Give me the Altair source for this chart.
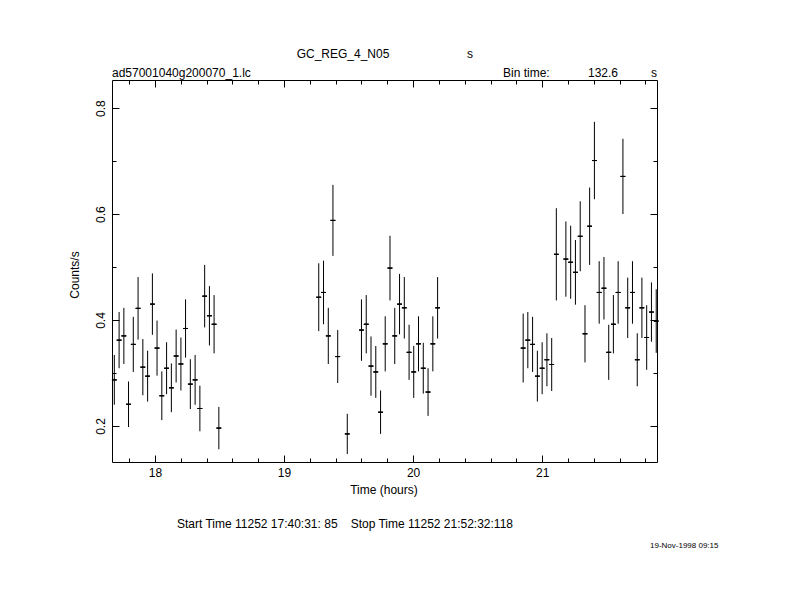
import altair as alt
import pandas as pd

# ---- data (time in hours, rate in counts/s) ----
t_g1 = [17.685, 17.722, 17.759, 17.795, 17.832, 17.869, 17.906, 17.943, 17.980, 18.016,
        18.053, 18.090, 18.127, 18.164, 18.201, 18.237, 18.274, 18.311, 18.348, 18.385,
        18.422, 18.458, 18.495]
r_g1 = [0.287, 0.362, 0.370, 0.241, 0.354, 0.422, 0.311, 0.294, 0.430, 0.347,
        0.257, 0.309, 0.272, 0.332, 0.317, 0.384, 0.279, 0.287, 0.233, 0.445,
        0.408, 0.392, 0.196]
e_g1 = [0.047, 0.053, 0.053, 0.043, 0.052, 0.059, 0.053, 0.048, 0.058, 0.052,
        0.046, 0.049, 0.046, 0.050, 0.050, 0.055, 0.047, 0.047, 0.043, 0.059,
        0.056, 0.055, 0.040]

t_g2 = [19.269, 19.306, 19.343, 19.379, 19.416, 19.490, 19.600, 19.637, 19.674, 19.711,
        19.748, 19.784, 19.821, 19.858, 19.895, 19.932, 19.969, 20.005, 20.042, 20.079,
        20.116, 20.153, 20.190]
r_g2 = [0.443, 0.452, 0.370, 0.588, 0.331, 0.185, 0.381, 0.392, 0.313, 0.302,
        0.226, 0.355, 0.498, 0.370, 0.430, 0.423, 0.339, 0.302, 0.355, 0.309,
        0.264, 0.355, 0.423]
e_g2 = [0.064, 0.060, 0.053, 0.067, 0.050, 0.038, 0.058, 0.055, 0.056, 0.049,
        0.041, 0.052, 0.061, 0.053, 0.057, 0.058, 0.052, 0.049, 0.052, 0.048,
        0.045, 0.052, 0.058]

t_g3 = [20.853, 20.889, 20.926, 20.963, 21.000, 21.037, 21.074, 21.110, 21.184, 21.221,
        21.258, 21.295, 21.332, 21.368, 21.405, 21.442, 21.479, 21.516, 21.552, 21.589,
        21.626, 21.663, 21.700, 21.737, 21.773, 21.810, 21.847, 21.884]
r_g3 = [0.347, 0.362, 0.354, 0.294, 0.309, 0.325, 0.316, 0.524, 0.515, 0.509,
        0.490, 0.558, 0.374, 0.577, 0.701, 0.452, 0.460, 0.339, 0.392, 0.452,
        0.671, 0.423, 0.452, 0.325, 0.423, 0.367, 0.415, 0.398]
e_g3 = [0.065, 0.053, 0.052, 0.048, 0.049, 0.050, 0.050, 0.087, 0.071, 0.069,
        0.061, 0.066, 0.054, 0.073, 0.073, 0.059, 0.059, 0.052, 0.055, 0.059,
        0.071, 0.057, 0.059, 0.050, 0.057, 0.061, 0.056, 0.060]

half_bin_hours = 132.6 / 3600 / 2

x_major = [18, 19, 20, 21]
x_minor = [17.8, 18.2, 18.4, 18.6, 18.8, 19.2, 19.4, 19.6, 19.8, 20.2, 20.4, 20.6, 20.8,
           21.2, 21.4, 21.6, 21.8]
y_major = [0.2, 0.4, 0.6, 0.8]
y_minor = [0.3, 0.5, 0.7]

x_domain = [17.667, 21.89]
y_domain = [0.132, 0.853]

t = t_g1 + t_g2 + t_g3
r = r_g1 + r_g2 + r_g3
e = e_g1 + e_g2 + e_g3
df = pd.DataFrame({"t": t, "r": r, "e": e})
df["lo"] = df["r"] - df["e"]
df["hi"] = df["r"] + df["e"]
df["t0"] = df["t"] - half_bin_hours
df["t1"] = df["t"] + half_bin_hours

FONT = "Liberation Sans"
W, H = 545, 382

xs = alt.Scale(domain=x_domain, nice=False, zero=False)
ys = alt.Scale(domain=y_domain, nice=False, zero=False)


def axis(orient, values, size, labels=False, **kw):
    return alt.Axis(orient=orient, values=values, tickSize=size, offset=-size,
                    labels=labels, domain=False, grid=False, title=None,
                    tickColor="black", tickWidth=1, labelColor="black",
                    labelFont=FONT, labelFontSize=12, labelFlush=False,
                    labelOverlap=False, **kw)


rule_style = dict(color="black", strokeWidth=1)

vbars = alt.Chart(df).mark_rule(**rule_style).encode(
    x=alt.X("t:Q", scale=xs,
            axis=axis("bottom", x_major, 7, labels=True, format="d", labelPadding=5)),
    y=alt.Y("lo:Q", scale=ys,
            axis=axis("left", y_major, 7, labels=True, format=".1f", labelAngle=270,
                      labelAlign="center", labelBaseline="bottom", labelPadding=5)),
    y2="hi:Q",
)

hbars = alt.Chart(df).mark_rule(**rule_style).encode(
    x=alt.X("t0:Q", scale=xs, axis=axis("bottom", x_minor, 4)),
    x2="t1:Q",
    y=alt.Y("r:Q", scale=ys, axis=axis("left", y_minor, 4)),
)

hbars_top = alt.Chart(df).mark_rule(**rule_style).encode(
    x=alt.X("t0:Q", scale=xs, axis=axis("top", x_major, 7)),
    x2="t1:Q",
    y=alt.Y("r:Q", scale=ys, axis=axis("right", y_major, 7)),
)

hbars_top_minor = alt.Chart(df).mark_rule(**rule_style).encode(
    x=alt.X("t0:Q", scale=xs, axis=axis("top", x_minor, 4)),
    x2="t1:Q",
    y=alt.Y("r:Q", scale=ys, axis=axis("right", y_minor, 4)),
)

# ---- text annotations ----
labels_df = pd.DataFrame({
    "txt": ["GC_REG_4_N05", "s", "ad57001040g200070_1.lc", "Bin time:", "132.6", "s",
            "Time (hours)", "Start Time 11252 17:40:31: 85", "Stop Time 11252 21:52:32:118"],
})


def text(txt, x, y, align="left", size=12, angle=0):
    kw = dict(align=align, baseline="middle", font=FONT, fontSize=size, color="black")
    if angle:
        kw["angle"] = angle
    return alt.Chart(pd.DataFrame({"txt": [txt]})).mark_text(**kw).encode(
        text="txt:N", x=alt.value(x), y=alt.value(y))


texts = [
    text("GC_REG_4_N05", 231, -26, "center"),
    text("s", 358, -26, "center"),
    text("ad57001040g200070_1.lc", 0, -7, "left"),
    text("Bin time:", 391, -7, "left"),
    text("132.6", 476, -7, "left"),
    text("s", 542, -7, "center"),
    text("Time (hours)", 272, 410, "center"),
    text("Counts/s", -37, 195, "center", angle=270),
    text("Start Time 11252 17:40:31: 85", 65, 444, "left"),
    text("Stop Time 11252 21:52:32:118", 401, 444, "right"),
    text("19-Nov-1998 09:15", 538, 466, "left", size=8),
]

chart = alt.layer(vbars, hbars, hbars_top, hbars_top_minor, *texts).resolve_axis(
    x="independent", y="independent"
).properties(
    width=W, height=H,
    autosize=alt.AutoSizeParams(type="none"),
    padding={"left": 104, "top": 72, "right": 120, "bottom": 120},
    background="white",
).configure_view(stroke="black", strokeWidth=1)

chart.save("out.html", embed_options={"renderer": "svg", "actions": False})
